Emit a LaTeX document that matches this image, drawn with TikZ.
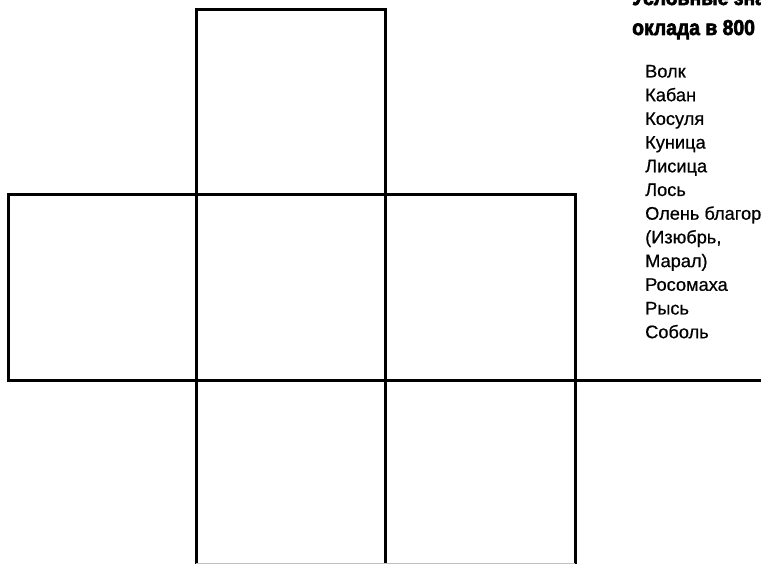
\documentclass[tikz,border=0pt]{standalone}
\usepackage{fontspec}
\setmainfont{Liberation Sans}
\newfontfamily\titlefont[FakeStretch=0.9,FakeBold=3]{Liberation Sans Bold}
\newfontfamily\legfont[FakeBold=0.6]{Liberation Sans}
\begin{document}
\begin{tikzpicture}[x=1pt,y=-1pt,
  gridline/.style={line width=3pt, black, line cap=rect},
  lbl/.style={anchor=base west, inner sep=0pt, font=\legfont\fontsize{18.2}{20}\selectfont},
  ttl/.style={anchor=base west, inner sep=0pt, font=\titlefont\fontsize{21.5}{24}\selectfont}]
\useasboundingbox (0,0) rectangle (761,564);
\clip (0,0) rectangle (761,564);
% grid
\draw[gridline] (196,10) -- (385,10);
\draw[gridline] (196,10) -- (196,570);
\draw[gridline] (385,10) -- (385,570);
\draw[gridline] (8,195) -- (575,195);
\draw[gridline] (8,195) -- (8,380);
\draw[gridline] (8,380) -- (770,380);
\draw[gridline] (575,195) -- (575,570);
\draw[gray!50, line width=1pt] (196,563) -- (575,563);
% title
\node[ttl] (t1) at (632,5) {Условные зна};
\node[ttl] (t2) at (632,35) {оклада в 800};
% legend
\node[lbl] (l1) at (645,77.5) {Волк};
\node[lbl] (l2) at (645,101.2) {Кабан};
\node[lbl] (l3) at (645,124.9) {Косуля};
\node[lbl] (l4) at (645,148.6) {Куница};
\node[lbl] (l5) at (645,172.3) {Лисица};
\node[lbl] (l6) at (645,196.0) {Лось};
\node[lbl] (l7) at (645,219.7) {Олень благор};
\node[lbl] (l8) at (645,243.4) {(Изюбрь,};
\node[lbl] (l9) at (645,267.1) {Марал)};
\node[lbl] (l10) at (645,290.8) {Росомаха};
\node[lbl] (l11) at (645,314.5) {Рысь};
\node[lbl] (l12) at (645,338.2) {Соболь};
\end{tikzpicture}
\end{document}
